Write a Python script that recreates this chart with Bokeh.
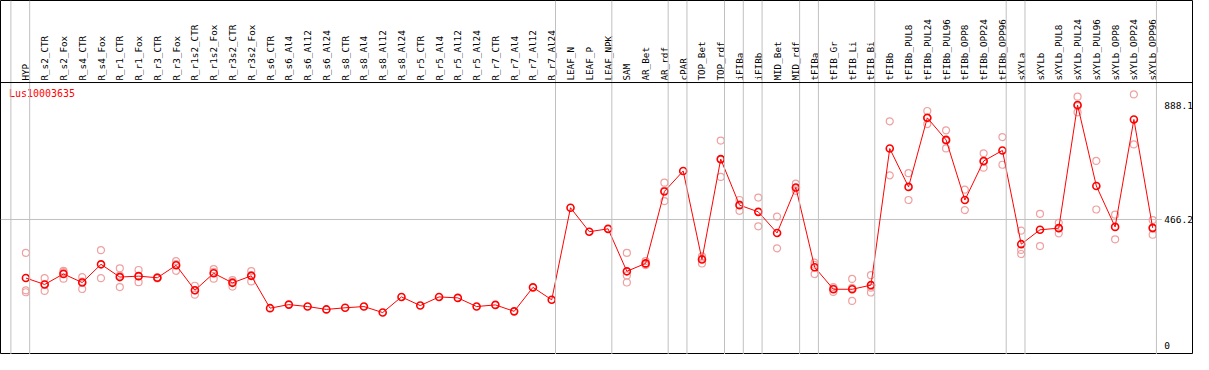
import math
from bokeh.plotting import figure
from bokeh.models import Range1d, Span
from bokeh.core.properties import value
from bokeh.embed import file_html
from bokeh.resources import INLINE

# ---------------- data ----------------
categories = [
    "HYP", "R_s2_CTR", "R_s2_Fox", "R_s4_CTR", "R_s4_Fox", "R_r1_CTR", "R_r1_Fox",
    "R_r3_CTR", "R_r3_Fox", "R_r1s2_CTR", "R_r1s2_Fox", "R_r3s2_CTR", "R_r3s2_Fox",
    "R_s6_CTR", "R_s6_Al4", "R_s6_Al12", "R_s6_Al24", "R_s8_CTR", "R_s8_Al4",
    "R_s8_Al12", "R_s8_Al24", "R_r5_CTR", "R_r5_Al4", "R_r5_Al12", "R_r5_Al24",
    "R_r7_CTR", "R_r7_Al4", "R_r7_Al12", "R_r7_Al24", "LEAF_N", "LEAF_P", "LEAF_NPK",
    "SAM", "AR_Bet", "AR_rdf", "cPAR", "TOP_Bet", "TOP_rdf", "iFIBa", "iFIBb",
    "MID_Bet", "MID_rdf", "tFIBa", "tFIB_Gr", "tFIB_Li", "tFIB_Bi", "tFIBb",
    "tFIBb_PUL8", "tFIBb_PUL24", "tFIBb_PUL96", "tFIBb_OPP8", "tFIBb_OPP24",
    "tFIBb_OPP96", "sXYLa", "sXYLb", "sXYLb_PUL8", "sXYLb_PUL24", "sXYLb_PUL96",
    "sXYLb_OPP8", "sXYLb_OPP24", "sXYLb_OPP96",
]

means = [
    250.3, 226.7, 265.6, 233.7, 300.9, 253.9, 257.4, 251.4, 297.4, 205.4, 268.0,
    232.7, 258.5, 139.3, 152.4, 145.3, 134.7, 140.7, 145.3, 123.1, 180.7, 148.9,
    180.7, 177.2, 145.3, 151.3, 127.6, 216.0, 170.1, 509.5, 421.1, 431.7, 275.1,
    304.4, 569.6, 645.0, 318.6, 688.8, 519.1, 494.3, 416.5, 583.8, 290.3, 209.0,
    209.0, 224.2, 727.7, 586.3, 840.9, 759.5, 537.8, 681.7, 720.6, 375.2, 428.2,
    434.2, 888.1, 589.8, 438.8, 834.9, 435.3,
]

replicates = [
    [343, 205, 198], [250, 203, 227], [277, 248, 272], [254, 210, 237], [353, 250],
    [286, 217, 259], [280, 235, 257], [249, 253, 252], [313, 277, 302], [222, 189, 205],
    [283, 248, 273], [243, 219, 236], [276, 238, 261],
    [], [], [], [], [], [], [], [], [], [], [], [], [], [], [], [],
    [], [], [],
    [343, 260, 234], [313, 298, 302], [602, 534, 573], [],
    [330, 304, 322], [757, 623, 687], [538, 498, 521], [547, 441],
    [477, 360], [598, 572, 581], [307, 265, 299], [217, 199, 211],
    [247, 166, 214], [261, 197, 215], [828, 629],
    [637, 538], [866, 818, 839], [795, 728, 756], [576, 501], [710, 657, 678],
    [770, 668], [425, 354, 339], [487, 368], [454, 415, 434], [919, 861, 884],
    [682, 503], [484, 393], [927, 743], [464, 410, 432],
]

group_sizes = [1, 28, 3, 3, 1, 2, 1, 1, 2, 1, 3, 7, 1, 7]
gene_id = "Lus10003635"
axis_values = [888.1, 466.2, 0]
axis_labels = ["888.1", "466.2", "0"]
ref_value = 466.2

# ---------------- layout helpers (reference pixel geometry) ----------------
W, H = 1193, 354
STEP, X0 = 19.0, 26.7          # px per category, px of first category
PXU, Y0 = 0.2828, 360.1        # px per value unit, px of value 0

def vx(px):
    return (px - X0) / STEP

def vy(py):
    return (Y0 - py) / PXU

MONO = value("DejaVu Sans Mono")
GRID = "#c0c0c0"

p = figure(width=W, height=H,
           x_range=Range1d(vx(1), vx(1208)), y_range=Range1d(vy(369), vy(0)),
           output_backend="svg", toolbar_location=None, min_border=0,
           x_axis_location=None, y_axis_location=None)
p.xgrid.grid_line_color = None
p.ygrid.grid_line_color = None
p.outline_line_color = "black"
p.outline_line_width = 1
p.background_fill_color = "white"
p.border_fill_color = "white"

# group separator lines
pos = -1
line_positions = [pos + 0.2]
for g in group_sizes:
    pos += g
    line_positions.append(pos + 0.2)
for lp in line_positions:
    p.add_layout(Span(location=lp, dimension="height", line_color=GRID, line_width=1))

# header separator
p.add_layout(Span(location=vy(85.5), dimension="width", line_color="black", line_width=1))

# reference value line
p.segment(x0=[vx(1)], x1=[vx(1176)], y0=[ref_value], y1=[ref_value],
          line_color=GRID, line_width=1)

idx = list(range(len(categories)))

# category labels
p.text(x=idx, y=[vy(83.5)] * len(idx), text=categories, angle=math.pi / 2,
       text_align="left", text_baseline="middle", text_font=MONO,
       text_font_size=value("9.3px"), text_color="black")

# title
p.text(x=[vx(9.5)], y=[vy(91.5)], text=[gene_id], text_align="left",
       text_baseline="top", text_font=MONO, text_font_size=value("10px"),
       text_color="red")

# value labels on right
p.text(x=[vx(1178.5)] * len(axis_values), y=axis_values, text=axis_labels,
       text_align="left", text_baseline="middle", text_font=MONO,
       text_font_size=value("9.5px"), text_color="black")

# replicates
rx, ry = [], []
for i, reps in enumerate(replicates):
    for r in reps:
        rx.append(i)
        ry.append(r)
p.scatter(rx, ry, marker="circle", size=7, fill_color=None,
          line_color="#f0a0a0", line_width=1.2)

# mean line and points
p.line(idx, means, line_color="red", line_width=1)
p.scatter(idx, means, marker="circle", size=7, fill_color=None,
          line_color="red", line_width=1.6)

open("out.html", "w").write(file_html(p, INLINE))
